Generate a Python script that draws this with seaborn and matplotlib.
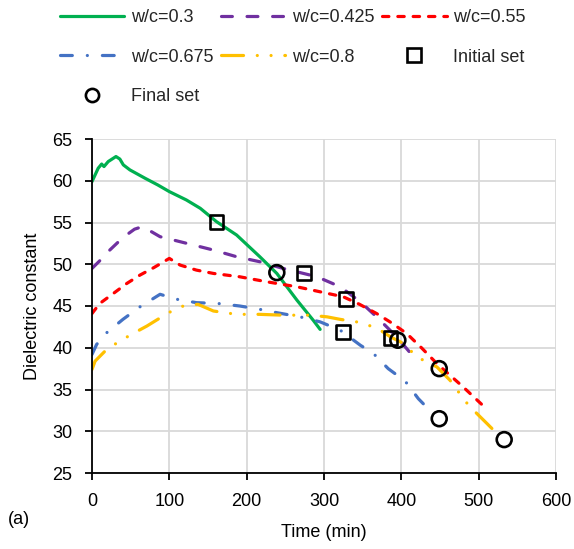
import matplotlib
matplotlib.use("Agg")
import matplotlib.pyplot as plt
from matplotlib.lines import Line2D
import seaborn as sns
import pandas as pd

# ---- data ----
t_03 = [0, 8, 12.5, 15.5, 21, 31, 36, 40.5, 49, 68.6, 85, 100, 122, 140, 161, 187, 217, 239, 265, 286, 295]
y_03 = [59.9, 61.5, 62.0, 61.7, 62.3, 62.9, 62.6, 61.9, 61.3, 60.3, 59.5, 58.7, 57.7, 56.7, 55.1, 53.5, 50.9, 48.9, 45.7, 43.3, 42.2]

t_0425 = [0, 12, 23, 40, 55, 65, 75, 88, 114, 157, 187, 217, 247, 291, 321, 347, 368, 394, 416]
y_0425 = [49.5, 50.6, 51.7, 53.2, 54.2, 54.5, 54.0, 53.3, 52.7, 51.7, 50.9, 50.3, 49.5, 48.5, 47.3, 45.5, 43.7, 41.3, 38.9]

t_055 = [0, 10, 27.6, 45, 62, 80, 100, 114, 135, 157, 191, 226, 265, 300, 325, 346, 368, 387, 407, 426, 446, 463, 480, 511]
y_055 = [44.1, 45.3, 46.5, 47.7, 48.7, 49.6, 50.7, 49.9, 49.3, 48.9, 48.5, 47.9, 47.3, 46.6, 46.1, 45.2, 44.1, 43.0, 41.7, 40.0, 38.1, 36.7, 35.3, 32.6]

t_0675 = [0, 6, 19, 40, 62, 88, 110, 135, 163, 191, 217, 239, 269, 295, 321, 347, 364, 383, 405, 422, 441]
y_0675 = [39.2, 40.4, 41.8, 43.4, 44.9, 46.4, 45.8, 45.4, 45.3, 45.0, 44.6, 44.2, 43.7, 43.1, 42.1, 40.3, 39.3, 37.5, 36.0, 33.9, 32.1]

t_08 = [0, 4, 19, 36, 53, 71, 99, 118, 137, 157, 187, 217, 247, 282, 304, 321, 342, 368, 386, 403, 420, 446, 463, 474, 487, 511, 525]
y_08 = [37.4, 38.4, 39.8, 40.8, 41.7, 42.6, 44.2, 45.0, 45.2, 44.4, 44.0, 44.0, 43.9, 43.9, 43.7, 43.4, 43.1, 42.4, 41.3, 40.5, 38.9, 37.7, 36.1, 34.7, 33.1, 30.9, 29.6]

t_initial = [161, 274, 328, 325, 386]
y_initial = [55.1, 48.9, 45.8, 41.9, 41.2]

t_final = [239, 395.5, 449, 449, 533]
y_final = [49.0, 40.9, 37.5, 31.5, 29.0]

labels = ["w/c=0.3", "w/c=0.425", "w/c=0.55", "w/c=0.675", "w/c=0.8"]
x_ticks = [0, 100, 200, 300, 400, 500, 600]
y_ticks = [25, 30, 35, 40, 45, 50, 55, 60, 65]

# ---- style ----
sns.set_theme(style="white")
plt.rcParams['font.family'] = ['Liberation Sans', 'DejaVu Sans']
FS = 13

colors = ["#00B050", "#7030A0", "#FF0000", "#4472C4", "#FFC000"]
dashes = [None, (3.4, 4.6), (2.0, 2.8), (3.7, 4.7, 0.01, 4.7), (6.9, 4.3, 0.01, 4.3, 0.01, 4.3)]
LW = 2.3

fig = plt.figure(figsize=(5.74, 5.49), dpi=100)
ax = fig.add_axes([92/574, 1-473/549, (556-92)/574, (473-139)/549])

series = [(t_03, y_03), (t_0425, y_0425), (t_055, y_055), (t_0675, y_0675), (t_08, y_08)]
handles = []
for (t, y), lab, c, d in zip(series, labels, colors, dashes):
    df = pd.DataFrame({"t": t, "y": y})
    sns.lineplot(data=df, x="t", y="y", ax=ax, color=c, linewidth=LW, sort=False,
                 estimator=None, legend=False)
    ln = ax.lines[-1]
    ln.set_solid_capstyle('round')
    ln.set_dash_capstyle('round')
    ln.set_solid_joinstyle('round')
    if d is not None:
        ln.set_dashes(d)
    h = Line2D([], [], color=c, linewidth=LW, solid_capstyle='round', dash_capstyle='round')
    if d is not None:
        h.set_dashes(d)
    handles.append(h)

sns.scatterplot(x=t_initial, y=y_initial, ax=ax, marker='s', s=100, facecolors='none',
                edgecolor='black', linewidth=1.9, zorder=5, legend=False)
sns.scatterplot(x=t_final, y=y_final, ax=ax, marker='o', s=115, facecolors='none',
                edgecolor='black', linewidth=1.9, zorder=5, legend=False)
h_init = Line2D([], [], linestyle='none', marker='s', markersize=9.5, markerfacecolor='none',
                markeredgecolor='black', markeredgewidth=1.9)
h_fin = Line2D([], [], linestyle='none', marker='o', markersize=9.5, markerfacecolor='none',
               markeredgecolor='black', markeredgewidth=1.9)

ax.set_xlim(0, 600)
ax.set_ylim(25, 65)
ax.set_xticks(x_ticks)
ax.set_yticks(y_ticks)
ax.grid(True, color="#d9d9d9", linewidth=1.3)
ax.set_axisbelow(True)
for s in ['top', 'right']:
    ax.spines[s].set_visible(False)
for s in ['left', 'bottom']:
    ax.spines[s].set_color('black')
    ax.spines[s].set_linewidth(1.3)
ax.tick_params(axis='both', which='major', direction='out', length=5, width=1.3,
               color='black', labelsize=FS, labelcolor='black', bottom=True, left=True)
ax.tick_params(axis='x', pad=9.5)
ax.tick_params(axis='y', pad=9)
ax.set_xlabel("Time (min)", fontsize=FS, color='black', labelpad=10)
ax.set_ylabel("Dielectric constant", fontsize=FS, color='black', labelpad=8)

all_h = handles + [h_init, h_fin]
all_l = labels + ["Initial set", "Final set"]
order = [0, 3, 6, 1, 4, 2, 5]
fig.legend([all_h[i] for i in order], [all_l[i] for i in order], loc='upper left',
           bbox_to_anchor=(60/574, 1-9/549), ncol=3, frameon=False, fontsize=FS,
           handlelength=3.55, handletextpad=0.36, columnspacing=0.45, labelspacing=1.25,
           borderpad=0, borderaxespad=0, numpoints=1)

fig.text(8/574, 1-520/549, "(a)", fontsize=FS, color='black', va='center', ha='left')

fig.savefig("out.png", dpi=100)
